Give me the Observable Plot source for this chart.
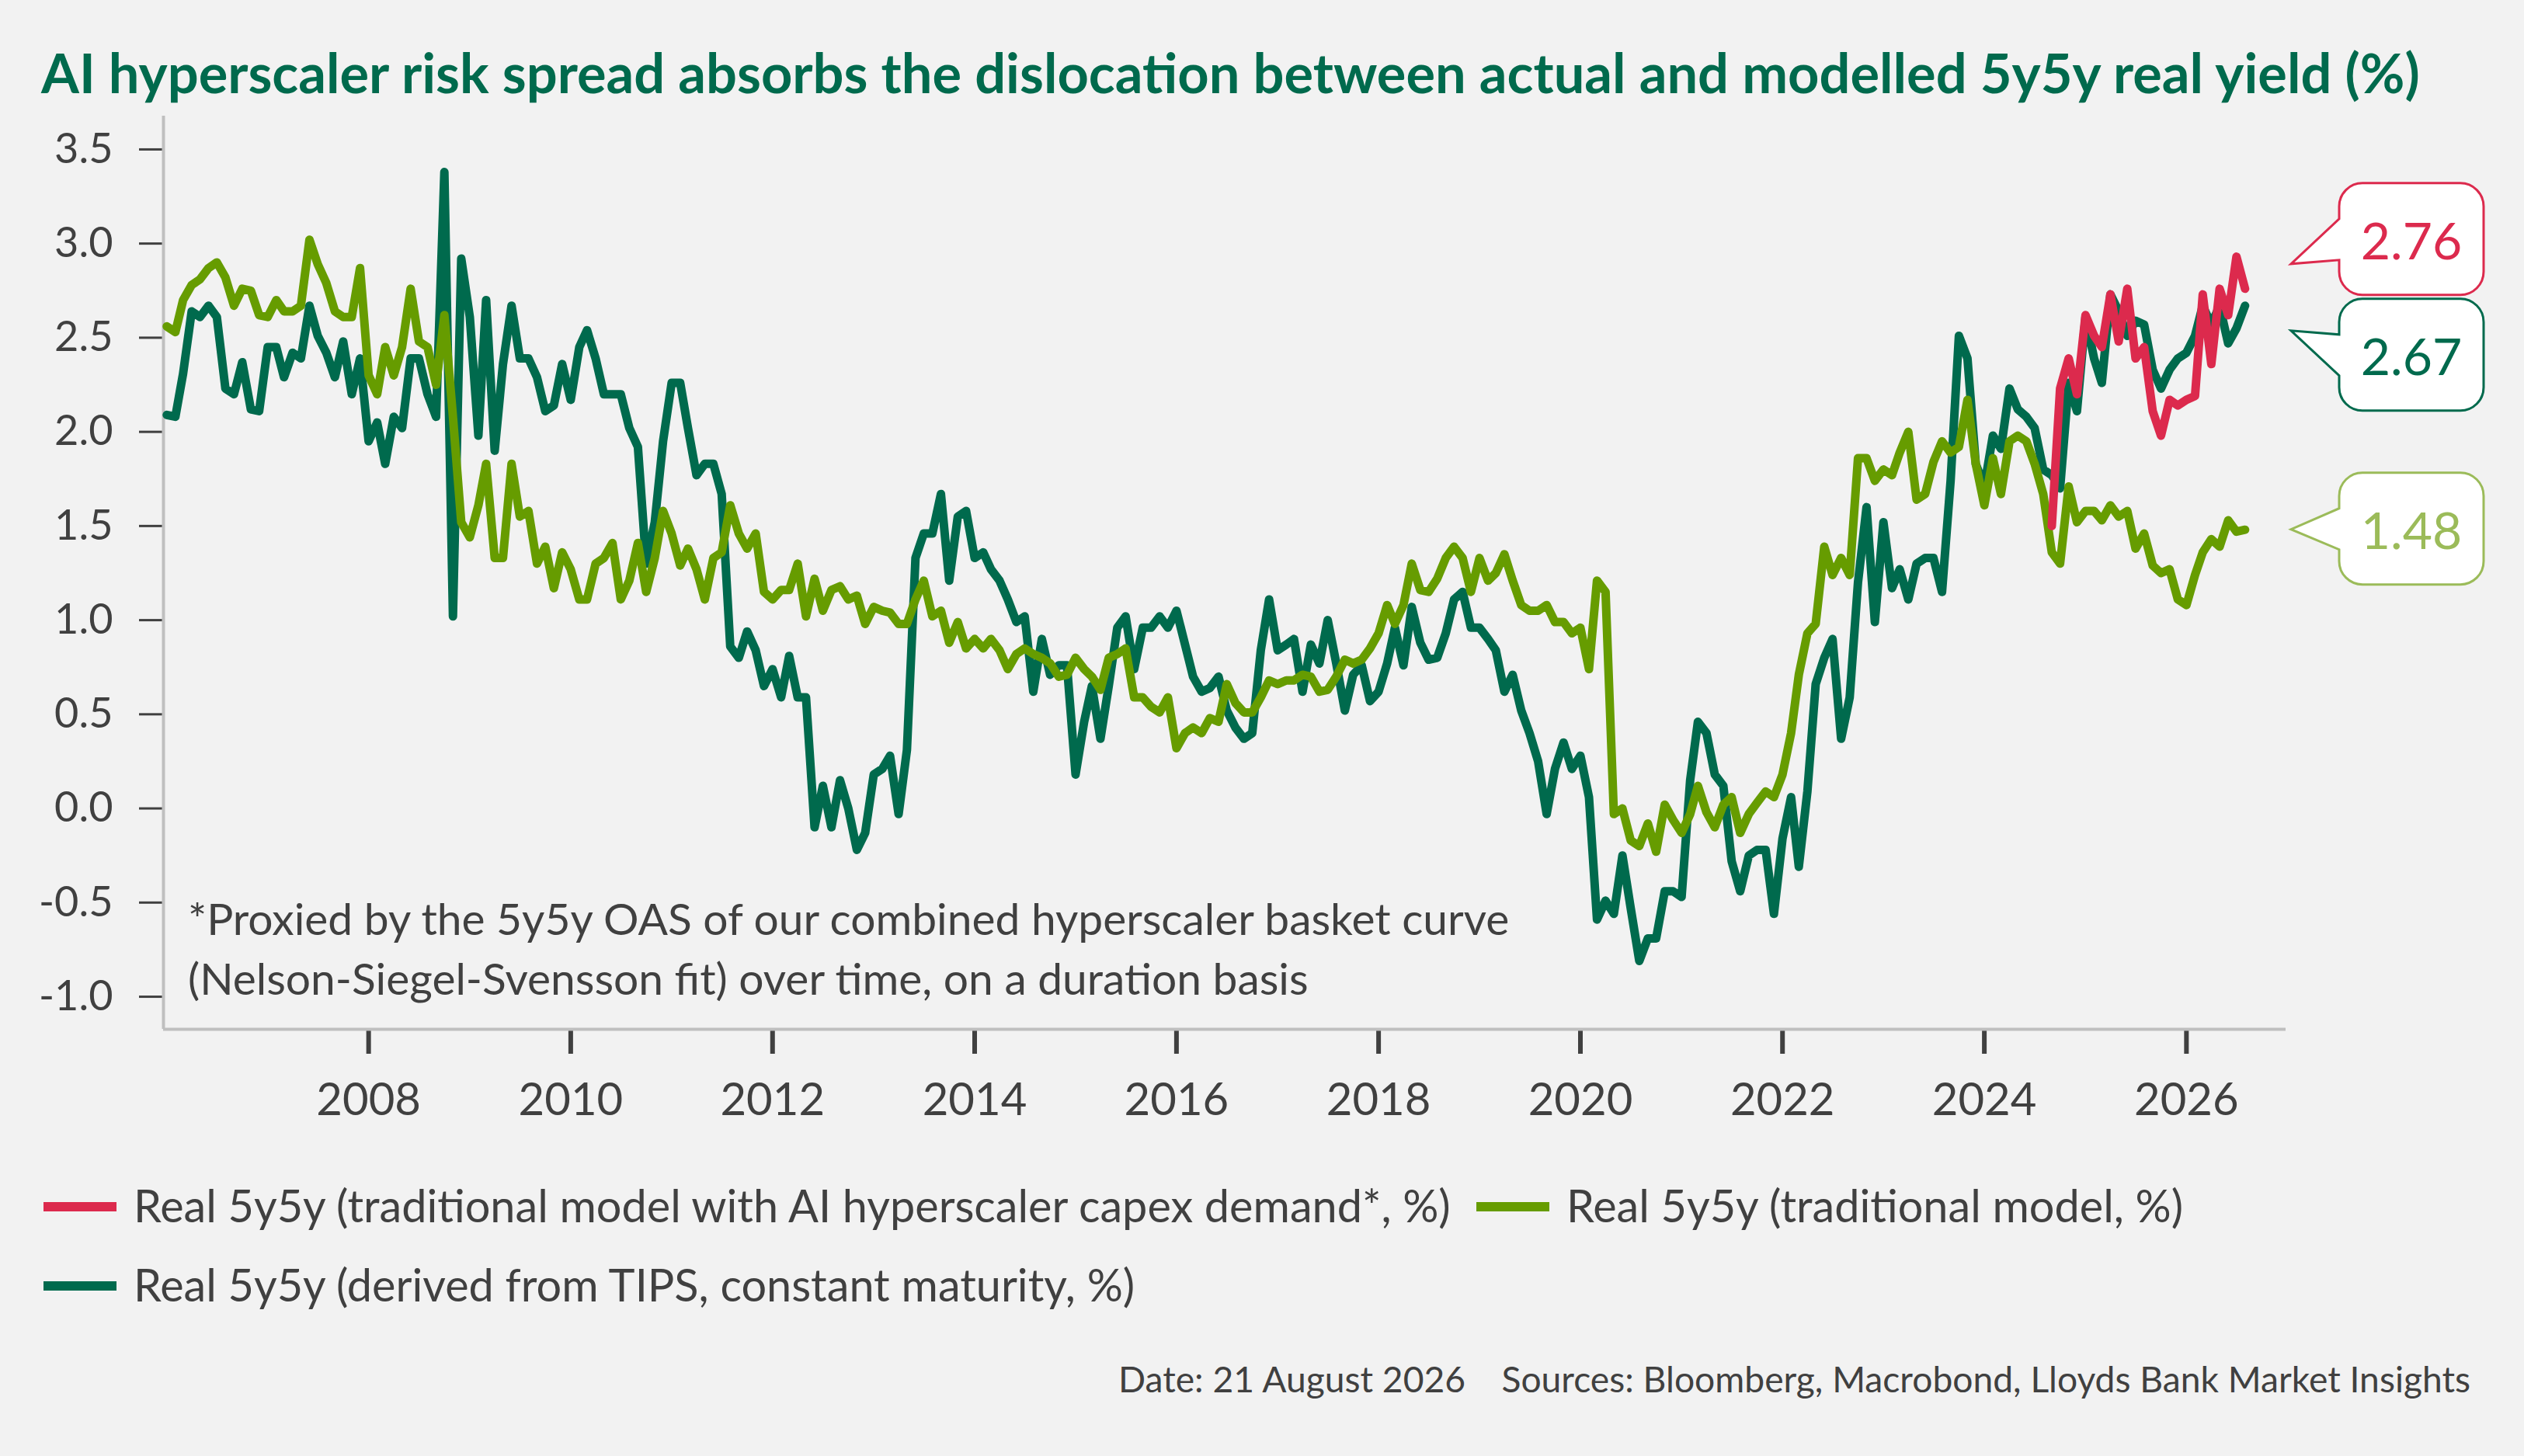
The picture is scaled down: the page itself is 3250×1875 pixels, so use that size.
<!DOCTYPE html>
<html>
<head>
<meta charset="utf-8">
<script src="https://cdn.jsdelivr.net/npm/d3@7"></script>
<script src="https://cdn.jsdelivr.net/npm/@observablehq/plot@0.6"></script>
<style>
  html, body { margin: 0; padding: 0; background: #F2F2F2; }
  #page { position: relative; width: 3250px; height: 1875px; background: #F2F2F2; overflow: hidden;
          font-family: Lato, "Open Sans", "Noto Sans", sans-serif; color: #404040; }
  .t { position: absolute; white-space: nowrap; line-height: 1.2; }
  #title { left: 53px; top: 51px; font-size: 70.4px; font-weight: 700; color: #006A4D; }
  .note { left: 242px; font-size: 56.9px; }
  .leg { font-size: 57.6px; }
  .sw { position: absolute; width: 94px; height: 12px; }
  #footer { right: 69px; top: 1748px; font-size: 46.2px; }
  #chart { position: absolute; left: 0; top: 140px; }
  #chart svg g.series-line path { stroke-width: 11px !important; stroke-linejoin: round; stroke-linecap: round; }
</style>
</head>
<body>
<div id="page">
  <div id="title" class="t"></div>
  <div id="chart"></div>
  <div id="note1" class="t note" style="top:1148px"></div>
  <div id="note2" class="t note" style="top:1225px"></div>
  <div id="legend"></div>
  <div id="footer" class="t"></div>
</div>
<script>
// ---------------- data ----------------
const titleText = "AI hyperscaler risk spread absorbs the dislocation between actual and modelled 5y5y real yield (%)";
const noteLines = [
  "*Proxied by the 5y5y OAS of our combined hyperscaler basket curve",
  "(Nelson-Siegel-Svensson fit) over time, on a duration basis"
];
const footerText = "Date: 21 August 2026\u2003 Sources: Bloomberg, Macrobond, Lloyds Bank Market Insights";

const seriesNames = [
  "Real 5y5y (traditional model with AI hyperscaler capex demand*, %)",
  "Real 5y5y (traditional model, %)",
  "Real 5y5y (derived from TIPS, constant maturity, %)"
];
const seriesColors = ["#DC2A4D", "#669C00", "#006A4D"];
const labelColors = ["#DC2A4D", "#9BBB59", "#006A4D"];

// monthly observations, Jan 2006 .. Aug 2026
const firstMonth = [2006, 0];
const redFirstMonth = [2024, 8];

// Real 5y5y derived from TIPS
const tipsValues = [
  2.09, 2.08, 2.31, 2.64, 2.61, 2.67, 2.61, 2.23, 2.20, 2.37, 2.12, 2.11, // 2006
  2.45, 2.45, 2.29, 2.42, 2.39, 2.67, 2.51, 2.42, 2.29, 2.48, 2.20, 2.39, // 2007
  1.95, 2.05, 1.83, 2.08, 2.02, 2.39, 2.39, 2.20, 2.08, 3.38, 1.02, 2.92, // 2008
  2.61, 1.98, 2.70, 1.90, 2.36, 2.67, 2.39, 2.39, 2.29, 2.11, 2.14, 2.36, // 2009
  2.17, 2.45, 2.54, 2.39, 2.20, 2.20, 2.20, 2.02, 1.92, 1.30, 1.52, 1.95, // 2010
  2.26, 2.26, 2.02, 1.77, 1.83, 1.83, 1.67, 0.86, 0.80, 0.94, 0.84, 0.65, // 2011
  0.74, 0.59, 0.81, 0.59, 0.59, -0.10, 0.12, -0.10, 0.15, 0.00, -0.22, -0.13, // 2012
  0.18, 0.21, 0.28, -0.03, 0.31, 1.33, 1.46, 1.46, 1.67, 1.21, 1.55, 1.58, // 2013
  1.33, 1.36, 1.27, 1.21, 1.11, 0.99, 1.02, 0.62, 0.90, 0.71, 0.76, 0.76, // 2014
  0.18, 0.46, 0.65, 0.37, 0.65, 0.96, 1.02, 0.74, 0.96, 0.96, 1.02, 0.96, // 2015
  1.05, 0.87, 0.70, 0.62, 0.64, 0.70, 0.52, 0.43, 0.37, 0.40, 0.84, 1.11, // 2016
  0.84, 0.87, 0.90, 0.62, 0.87, 0.77, 1.00, 0.77, 0.52, 0.71, 0.76, 0.57, // 2017
  0.62, 0.77, 0.96, 0.76, 1.07, 0.88, 0.79, 0.80, 0.93, 1.11, 1.15, 0.96, // 2018
  0.96, 0.90, 0.84, 0.62, 0.71, 0.52, 0.40, 0.25, -0.03, 0.21, 0.35, 0.21, // 2019
  0.28, 0.06, -0.59, -0.49, -0.56, -0.25, -0.53, -0.81, -0.69, -0.69, -0.44, -0.44, // 2020
  -0.47, 0.15, 0.46, 0.40, 0.18, 0.12, -0.28, -0.44, -0.25, -0.22, -0.22, -0.56, // 2021
  -0.16, 0.06, -0.31, 0.09, 0.66, 0.80, 0.90, 0.37, 0.59, 1.20, 1.60, 0.99, // 2022
  1.52, 1.17, 1.27, 1.11, 1.30, 1.33, 1.33, 1.15, 1.74, 2.51, 2.39, 1.83, // 2023
  1.71, 1.98, 1.91, 2.23, 2.12, 2.08, 2.02, 1.80, 1.77, 1.70, 2.26, 2.11, // 2024
  2.61, 2.39, 2.26, 2.73, 2.64, 2.51, 2.59, 2.57, 2.33, 2.23, 2.33, 2.39, // 2025
  2.42, 2.51, 2.67, 2.57, 2.67, 2.47, 2.55, 2.67                          // 2026
];

// Real 5y5y traditional model
const modelValues = [
  2.56, 2.53, 2.70, 2.78, 2.81, 2.87, 2.90, 2.82, 2.67, 2.76, 2.75, 2.62, // 2006
  2.61, 2.70, 2.64, 2.64, 2.67, 3.02, 2.89, 2.79, 2.64, 2.61, 2.61, 2.87, // 2007
  2.30, 2.20, 2.45, 2.30, 2.45, 2.76, 2.48, 2.45, 2.25, 2.62, 2.08, 1.52, // 2008
  1.44, 1.61, 1.83, 1.33, 1.33, 1.83, 1.55, 1.58, 1.30, 1.39, 1.17, 1.36, // 2009
  1.27, 1.11, 1.11, 1.30, 1.33, 1.41, 1.11, 1.21, 1.41, 1.15, 1.33, 1.58, // 2010
  1.46, 1.29, 1.38, 1.27, 1.11, 1.33, 1.36, 1.61, 1.46, 1.38, 1.46, 1.15, // 2011
  1.11, 1.16, 1.16, 1.30, 1.02, 1.22, 1.05, 1.16, 1.18, 1.11, 1.13, 0.98, // 2012
  1.07, 1.05, 1.04, 0.98, 0.98, 1.11, 1.21, 1.02, 1.05, 0.88, 0.99, 0.85, // 2013
  0.90, 0.85, 0.90, 0.84, 0.74, 0.82, 0.85, 0.82, 0.80, 0.77, 0.70, 0.71, // 2014
  0.80, 0.74, 0.70, 0.63, 0.80, 0.82, 0.85, 0.59, 0.59, 0.54, 0.51, 0.59, // 2015
  0.32, 0.40, 0.43, 0.40, 0.48, 0.46, 0.66, 0.56, 0.51, 0.51, 0.59, 0.68, // 2016
  0.66, 0.68, 0.68, 0.71, 0.70, 0.62, 0.63, 0.70, 0.79, 0.77, 0.79, 0.85, // 2017
  0.93, 1.08, 0.98, 1.08, 1.30, 1.16, 1.15, 1.22, 1.33, 1.39, 1.33, 1.15, // 2018
  1.33, 1.21, 1.25, 1.35, 1.21, 1.08, 1.05, 1.05, 1.08, 0.99, 0.99, 0.93, // 2019
  0.96, 0.74, 1.21, 1.15, -0.03, 0.00, -0.17, -0.20, -0.08, -0.23, 0.02, -0.06, // 2020
  -0.13, -0.03, 0.12, -0.02, -0.10, 0.02, 0.06, -0.13, -0.03, 0.03, 0.09, 0.06, // 2021
  0.18, 0.40, 0.71, 0.93, 0.98, 1.39, 1.24, 1.33, 1.24, 1.86, 1.86, 1.74, // 2022
  1.80, 1.77, 1.89, 2.00, 1.64, 1.67, 1.84, 1.95, 1.89, 1.92, 2.17, 1.83, // 2023
  1.61, 1.86, 1.67, 1.95, 1.98, 1.95, 1.83, 1.67, 1.36, 1.30, 1.71, 1.52, // 2024
  1.58, 1.58, 1.53, 1.61, 1.55, 1.58, 1.38, 1.46, 1.29, 1.25, 1.27, 1.11, // 2025
  1.08, 1.24, 1.36, 1.43, 1.39, 1.53, 1.47, 1.48                          // 2026
];

// Real 5y5y traditional model with AI hyperscaler capex demand, Sep 2024 .. Aug 2026
const aiValues = [
  1.50, 2.23, 2.39, 2.20,                                                 // 2024
  2.62, 2.51, 2.45, 2.73, 2.48, 2.76, 2.39, 2.45, 2.11, 1.98, 2.17, 2.14, // 2025
  2.17, 2.19, 2.73, 2.36, 2.76, 2.62, 2.93, 2.76                          // 2026
];

const yTicks = [-1.0, -0.5, 0.0, 0.5, 1.0, 1.5, 2.0, 2.5, 3.0, 3.5];
const xTickYears = [2008, 2010, 2012, 2014, 2016, 2018, 2020, 2022, 2024, 2026];

// ---------------- tables ----------------
const monthDate = (start, i) => new Date(Date.UTC(start[0], start[1] + i, 1));
const tips = tipsValues.map((v, i) => ({date: monthDate(firstMonth, i), value: v}));
const model = modelValues.map((v, i) => ({date: monthDate(firstMonth, i), value: v}));
const ai = aiValues.map((v, i) => ({date: monthDate(redFirstMonth, i), value: v}));

const xDomain = [new Date(Date.UTC(2005, 11, 20)), new Date(Date.UTC(2026, 11, 27))];
const yDomain = [-1.173, 3.677];

// ---------------- texts ----------------
document.getElementById("title").textContent = titleText;
document.getElementById("note1").textContent = noteLines[0];
document.getElementById("note2").textContent = noteLines[1];
document.getElementById("footer").textContent = footerText;

const legendItems = [
  {name: seriesNames[0], color: seriesColors[0], left: 56, top: 1517},
  {name: seriesNames[1], color: seriesColors[1], left: 1901, top: 1517},
  {name: seriesNames[2], color: seriesColors[2], left: 56, top: 1619}
];
const legend = document.getElementById("legend");
for (const it of legendItems) {
  const sw = document.createElement("div");
  sw.className = "sw";
  sw.style.left = it.left + "px";
  sw.style.top = (it.top + 31) + "px";
  sw.style.background = it.color;
  legend.appendChild(sw);
  const tx = document.createElement("div");
  tx.className = "t leg";
  tx.style.left = (it.left + 116) + "px";
  tx.style.top = it.top + "px";
  tx.textContent = it.name;
  legend.appendChild(tx);
}

// ---------------- chart ----------------
const lineOpts = (color) => ({x: "date", y: "value", stroke: color, strokeWidth: 11,
  strokeLinejoin: "round", strokeLinecap: "round", className: "series-line"});
const chart = Plot.plot({
  width: 3250,
  height: 1320,
  marginTop: 9,
  marginBottom: 135,
  marginLeft: 210,
  marginRight: 307,
  style: {background: "transparent", fontFamily: "Lato, 'Open Sans', sans-serif", overflow: "visible"},
  x: {type: "utc", domain: xDomain},
  y: {domain: yDomain},
  marks: [
    Plot.axisY({
      ticks: yTicks, tickSize: 31, tickPadding: 34, fontSize: 54,
      tickFormat: d => d.toFixed(1), color: "#404040", strokeWidth: 3, label: null
    }),
    Plot.axisX({
      ticks: xTickYears.map(y => new Date(Date.UTC(y, 0, 1))), tickSize: 32, tickPadding: 37, fontSize: 58,
      tickFormat: d => String(d.getUTCFullYear()), color: "#404040", strokeWidth: 6, label: null
    }),
    Plot.ruleX([xDomain[0]], {stroke: "#BFBFBF", strokeWidth: 4}),
    Plot.ruleY([yDomain[0]], {stroke: "#BFBFBF", strokeWidth: 4}),
    Plot.line(tips, lineOpts(seriesColors[2])),
    Plot.line(model, lineOpts(seriesColors[1])),
    Plot.line(ai, lineOpts(seriesColors[0]))
  ]
});
document.getElementById("chart").appendChild(chart);

// ---------------- end-value call-outs ----------------
const xs = chart.scale("x"), ys = chart.scale("y");
const frameRight = xs.apply(xDomain[1]);
const callouts = [
  {value: aiValues[aiValues.length - 1], color: labelColors[0], boxDy: -135.5, tipDy: -31.5},
  {value: tipsValues[tipsValues.length - 1], color: labelColors[2], boxDy: -8.4, tipDy: 32.6},
  {value: modelValues[modelValues.length - 1], color: labelColors[1], boxDy: -73, tipDy: 0}
];
const svg = d3.select(chart);
const g = svg.append("g");
for (const c of callouts) {
  const yv = ys.apply(c.value);
  const left = frameRight + 69, right = left + 186;
  const top = yv + c.boxDy, bottom = top + 144, r = 30;
  const tipX = frameRight + 7, tipY = yv + c.tipDy;
  const p = d3.path();
  p.moveTo(left + r, top);
  p.lineTo(right - r, top);
  p.arcTo(right, top, right, top + r, r);
  p.lineTo(right, bottom - r);
  p.arcTo(right, bottom, right - r, bottom, r);
  p.lineTo(left + r, bottom);
  p.arcTo(left, bottom, left, bottom - r, r);
  p.lineTo(left, top + 99);
  p.lineTo(tipX, tipY);
  p.lineTo(left, top + 46);
  p.lineTo(left, top + r);
  p.arcTo(left, top, left + r, top, r);
  p.closePath();
  g.append("path").attr("d", p.toString())
    .attr("fill", "#FFFFFF").attr("stroke", c.color).attr("stroke-width", 3);
  g.append("text")
    .attr("x", (left + right) / 2).attr("y", top + 98)
    .attr("text-anchor", "middle")
    .attr("font-family", "Lato, 'Open Sans', sans-serif")
    .attr("font-size", 66)
    .attr("fill", c.color)
    .text(c.value.toFixed(2));
}
</script>
</body>
</html>
